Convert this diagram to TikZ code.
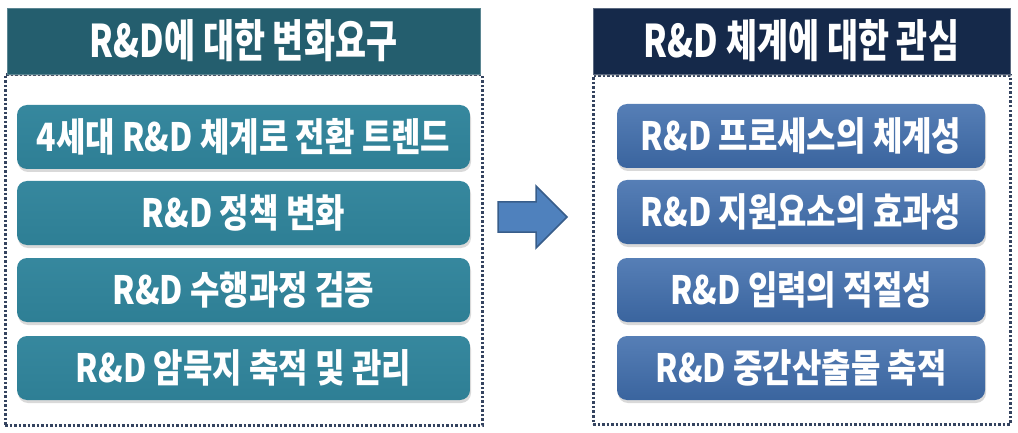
\documentclass[tikz,border=0pt]{standalone}
\usepackage{fontspec}
\newfontfamily\krhead{Noto Sans CJK KR}[FakeStretch=0.75]
\newfontfamily\kritem{Noto Sans CJK KR}[FakeStretch=0.82]
\usepackage{tikz}
\usetikzlibrary{positioning,shadows}

\definecolor{headteal}{HTML}{245E6E}
\definecolor{headnavy}{HTML}{15294A}
\definecolor{itemteal}{HTML}{30849B}
\definecolor{itemblue}{HTML}{3F6DAC}
\definecolor{dotline}{HTML}{34435F}
\definecolor{arrowfill}{HTML}{4F81BD}
\definecolor{arrowline}{HTML}{385D8A}

\tikzset{
  head/.style={minimum height=66, inner sep=0, text=white,
    font=\krhead\bfseries\fontsize{45}{45}\selectfont,
    drop shadow={shadow xshift=1pt, shadow yshift=-2pt, opacity=0.3}},
  itm/.style={minimum height=64, inner sep=0, rounded corners=10, text=white,
    font=\kritem\bfseries\fontsize{39}{39}\selectfont,
    drop shadow={shadow xshift=1pt, shadow yshift=-3pt, opacity=0.3}},
  dotbox/.style={draw=dotline, line width=3, dash pattern=on 2.5pt off 2pt},
  arw/.style={fill=arrowfill, draw=arrowline, line width=1.5}
}

\begin{document}
\begin{tikzpicture}[x=1pt, y=-1pt]
\useasboundingbox (0,0) rectangle (1018,433);

% dotted frames
\node[dotbox, minimum width=477, minimum height=350] (lbox) at (243.5,250) {};
\node[dotbox, minimum width=417, minimum height=348] (rbox) at (801.5,250) {};

% headers
\node[head, minimum width=473, fill=headteal, draw=headteal!75!white] (lh) at (243.5,41) {R\&D에 대한 변화요구};
\node[head, minimum width=417, fill=headnavy, draw=headnavy!70!white] (rh) at (801.5,41) {R\&D 체계에 대한 관심};

% left items
\node[itm, minimum width=453, top color=itemteal!97!white, bottom color=itemteal!96!black] (l1) at (243.5,137) {4세대 R\&D 체계로 전환 트렌드};
\node[itm, minimum width=453, top color=itemteal!97!white, bottom color=itemteal!96!black] (l2) at (243.5,213) {R\&D 정책 변화};
\node[itm, minimum width=453, top color=itemteal!97!white, bottom color=itemteal!96!black] (l3) at (243.5,290) {R\&D 수행과정 검증};
\node[itm, minimum width=453, top color=itemteal!97!white, bottom color=itemteal!96!black] (l4) at (243.5,368) {R\&D 암묵지 축적 및 관리};

% right items
\node[itm, minimum width=368, top color=itemblue!88!white, bottom color=itemblue!92!black] (r1) at (801,136) {R\&D 프로세스의 체계성};
\node[itm, minimum width=368, top color=itemblue!88!white, bottom color=itemblue!92!black] (r2) at (801,212) {R\&D 지원요소의 효과성};
\node[itm, minimum width=368, top color=itemblue!88!white, bottom color=itemblue!92!black] (r3) at (801,290) {R\&D 입력의 적절성};
\node[itm, minimum width=368, top color=itemblue!88!white, bottom color=itemblue!92!black] (r4) at (801,368) {R\&D 중간산출물 축적};

% block arrow
\draw[arw] (498,202) -- (536,202) -- (536,186) -- (567,217) -- (536,248) -- (536,232) -- (498,232) -- cycle;
\end{tikzpicture}
\end{document}
